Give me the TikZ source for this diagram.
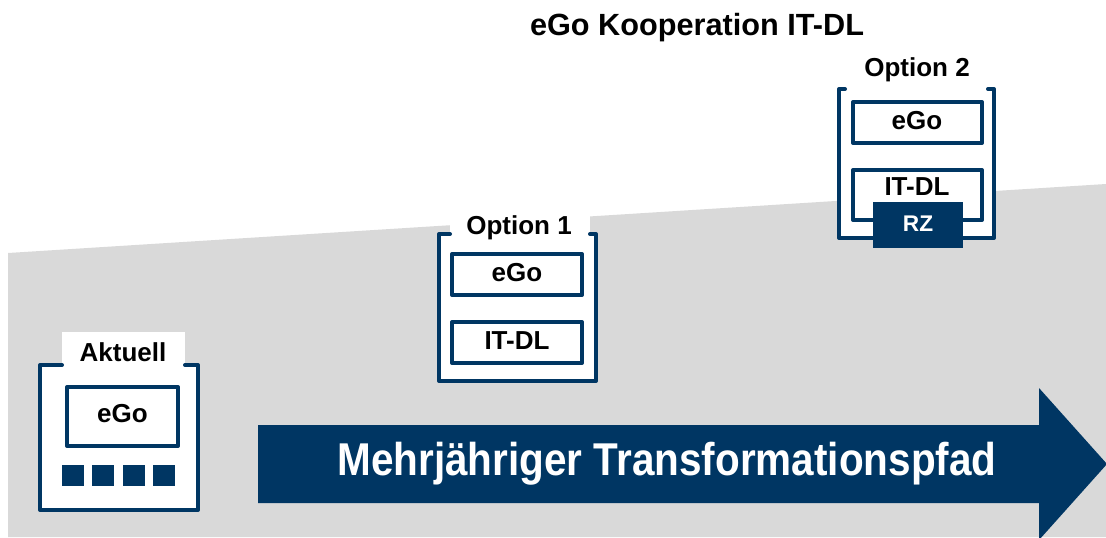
\documentclass[tikz,border=0pt]{standalone}
\usepackage{fontspec}
\setmainfont{Liberation Sans}
\definecolor{navy}{RGB}{0,54,99}
\definecolor{bggray}{RGB}{217,217,217}
\begin{document}
\begin{tikzpicture}[x=0.75pt,y=-0.75pt,
  frame/.style={draw=navy,line width=3pt,line join=round,line cap=round},
  slot/.style={draw=navy,line width=3pt,fill=white,line join=round},
  block/.style={fill=navy},
  lbl/.style={font=\bfseries\fontsize{19.5}{22}\selectfont,inner sep=0pt},
  wlbl/.style={font=\bfseries\fontsize{17}{20}\selectfont,inner sep=0pt,text=white},
  title/.style={font=\bfseries\fontsize{23}{27}\selectfont,inner sep=0pt},
  pathtext/.style={font=\bfseries\fontsize{34.5}{40}\selectfont,text=white,xscale=0.88,inner sep=0pt}]
\useasboundingbox (0,0) rectangle (1106,537);
\fill[white] (0,0) rectangle (1106,537);
% rising gray plane
\fill[bggray] (8,253) -- (1106,184) -- (1106,537) -- (8,537) -- cycle;

% title
\node[title] (title) at (697,28) {eGo Kooperation IT-DL};

% transformation arrow
\fill[navy] (258,425) -- (1039,425) -- (1039,388) -- (1107,464) -- (1039,540) -- (1039,503) -- (258,503) -- cycle;
\node[pathtext] (path) at (667,464) {Mehrjähriger Transformationspfad};

% --- Aktuell ---
\fill[white] (40,365) rectangle (198,510);
\fill[white] (62,332) rectangle (185,368);
\draw[frame] (62,365) -- (40,365) -- (40,510) -- (198,510) -- (198,365) -- (185,365);
\node[lbl] (akt) at (123,352) {Aktuell};
\draw[slot] (67,387) rectangle (178,446);
\node[lbl] (aktego) at (122.5,414) {eGo};
\foreach \x in {62,92,123,153}
  \fill[block] (\x,465) rectangle ++(22,21);

% --- Option 1 ---
\fill[white] (439,234) rectangle (596,381);
\fill[white] (450,208) rectangle (590,238);
\draw[frame] (450,234) -- (439,234) -- (439,381) -- (596,381) -- (596,234) -- (590,234);
\node[lbl] (opt1) at (519,228) {Option 1};
\draw[slot] (452,254) rectangle (582,295);
\node[lbl] (opt1ego) at (517,273) {eGo};
\draw[slot] (452,322) rectangle (582,363);
\node[lbl] (opt1itdl) at (517,341) {IT-DL};

% --- Option 2 ---
\fill[white] (839,89) rectangle (994,238);
\draw[frame] (845,89) -- (839,89) -- (839,238) -- (994,238) -- (994,89) -- (988,89);
\node[lbl] (opt2) at (917,70) {Option 2};
\draw[slot] (853,102) rectangle (982,143);
\node[lbl] (opt2ego) at (917,121) {eGo};
\draw[slot] (853,170) rectangle (982,220);
\node[lbl] (opt2itdl) at (917,187) {IT-DL};
\fill[block] (873,202) rectangle (963,248);
\node[wlbl] (rz) at (918,224) {RZ};
\end{tikzpicture}
\end{document}
